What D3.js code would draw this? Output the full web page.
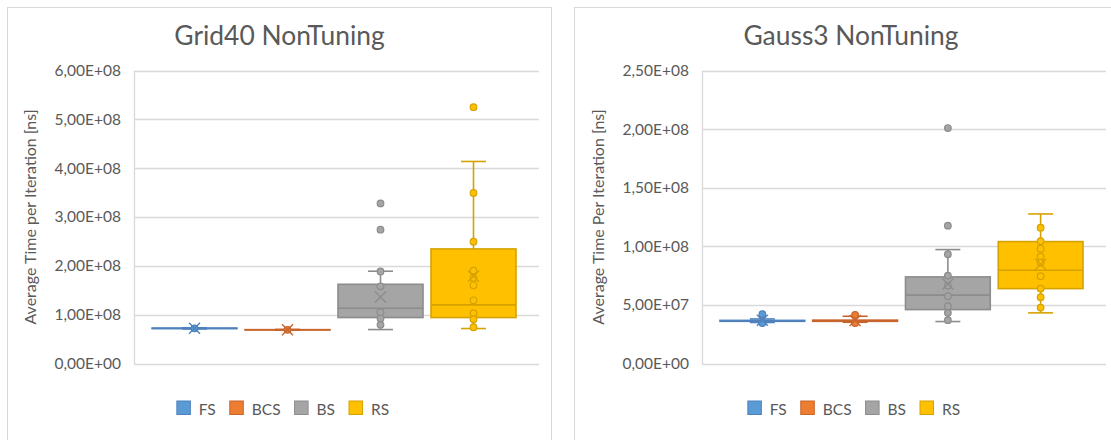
<!DOCTYPE html>
<html>
<head>
<meta charset="utf-8">
<script src="https://cdn.jsdelivr.net/npm/d3@7"></script>
<style>
  body { margin: 0; background: #fff; }
  text { font-family: Lato, "Open Sans", sans-serif; fill: #595959; }
</style>
</head>
<body>
<svg id="chart" width="1111" height="440"></svg>
<script>
// Series shared by both panels
const seriesNames = ["FS", "BCS", "BS", "RS"];
const seriesFill = ["#5b9bd5", "#ed7d31", "#a5a5a5", "#ffc000"];
const seriesLine = ["#4f81bd", "#c8642b", "#8c8c8c", "#d6a200"];

// Grid40 NonTuning — box statistics, average time per iteration (ns)
const grid40Min    = [7.08e7, 6.82e7, 6.95e7, 7.16e7];
const grid40Q1     = [7.17e7, 6.87e7, 9.41e7, 9.41e7];
const grid40Median = [7.20e7, 6.90e7, 1.131e8, 1.200e8];
const grid40Q3     = [7.24e7, 6.93e7, 1.622e8, 2.346e8];
const grid40Max    = [7.32e7, 6.98e7, 1.890e8, 4.137e8];
const grid40Mean   = [7.20e7, 6.90e7, 1.364e8, 1.785e8];
const grid40Points = [
  [7.20e7],
  [6.90e7],
  [3.278e8, 2.740e8, 1.885e8, 1.581e8, 1.049e8, 9.20e7, 7.91e7],
  [5.249e8, 3.491e8, 2.495e8, 1.902e8, 1.753e8, 1.601e8, 1.294e8, 1.029e8, 9.06e7, 7.42e7]
];
const grid40Ticks = [0, 1e8, 2e8, 3e8, 4e8, 5e8, 6e8];
const grid40TickLabels = ["0,00E+00", "1,00E+08", "2,00E+08", "3,00E+08", "4,00E+08", "5,00E+08", "6,00E+08"];

// Gauss3 NonTuning — box statistics, average time per iteration (ns)
const gauss3Min    = [3.50e7, 3.52e7, 3.58e7, 4.32e7];
const gauss3Q1     = [3.60e7, 3.60e7, 4.60e7, 6.39e7];
const gauss3Median = [3.64e7, 3.65e7, 5.83e7, 7.96e7];
const gauss3Q3     = [3.68e7, 3.70e7, 7.39e7, 1.040e8];
const gauss3Max    = [3.80e7, 4.03e7, 9.72e7, 1.276e8];
const gauss3Mean   = [3.70e7, 3.66e7, 6.79e7, 8.47e7];
const gauss3Points = [
  [4.21e7, 3.45e7],
  [4.15e7, 3.45e7],
  [2.009e8, 1.176e8, 9.32e7, 7.50e7, 6.65e7, 5.74e7, 4.89e7, 4.32e7, 3.70e7],
  [1.159e8, 1.043e8, 9.80e7, 9.12e7, 8.61e7, 7.45e7, 6.39e7, 5.66e7, 4.77e7]
];
const gauss3Ticks = [0, 5e7, 1e8, 1.5e8, 2e8, 2.5e8];
const gauss3TickLabels = ["0,00E+00", "5,00E+07", "1,00E+08", "1,50E+08", "2,00E+08", "2,50E+08"];

const panels = [
  {
    title: "Grid40 NonTuning", yTitle: "Average Time per Iteration [ns]",
    min: grid40Min, q1: grid40Q1, median: grid40Median, q3: grid40Q3, max: grid40Max,
    mean: grid40Mean, points: grid40Points, ticks: grid40Ticks, tickLabels: grid40TickLabels,
    frameX0: 7.5, frameX1: 551.5, plotX0: 134, plotX1: 539, titleX: 279.5, legendX: 283
  },
  {
    title: "Gauss3 NonTuning", yTitle: "Average Time Per Iteration [ns]",
    min: gauss3Min, q1: gauss3Q1, median: gauss3Median, q3: gauss3Q3, max: gauss3Max,
    mean: gauss3Mean, points: gauss3Points, ticks: gauss3Ticks, tickLabels: gauss3TickLabels,
    frameX0: 574.5, frameX1: 1135, plotX0: 702, plotX1: 1106, titleX: 851, legendX: 854
  }
];

const svg = d3.select("#chart");
const plotTop = 70.5, plotBottom = 363.5;
const gridColor = "#d9d9d9";

panels.forEach(p => {
  const g = svg.append("g");

  // chart frame
  g.append("rect")
    .attr("x", p.frameX0).attr("y", 7.5)
    .attr("width", p.frameX1 - p.frameX0).attr("height", 460)
    .attr("fill", "#fff").attr("stroke", gridColor).attr("stroke-width", 1);

  const y = d3.scaleLinear()
    .domain([0, d3.max(p.ticks)])
    .range([plotBottom, plotTop]);

  const x = d3.scaleBand()
    .domain(seriesNames)
    .range([p.plotX0 + 14, p.plotX1 - 19])
    .paddingInner(0.086)
    .paddingOuter(0.043);

  // gridlines
  g.append("g")
    .selectAll("line").data(p.ticks).join("line")
    .attr("x1", p.plotX0).attr("x2", p.plotX1)
    .attr("y1", d => Math.round(y(d)) + 0.5).attr("y2", d => Math.round(y(d)) + 0.5)
    .attr("stroke", gridColor).attr("stroke-width", 1.3);

  // vertical axis line
  g.append("line")
    .attr("x1", p.plotX0 + 0.5).attr("x2", p.plotX0 + 0.5)
    .attr("y1", plotTop).attr("y2", plotBottom + 0.5)
    .attr("stroke", gridColor).attr("stroke-width", 1.3);

  // tick labels
  const axis = d3.axisLeft(y)
    .tickValues(p.ticks)
    .tickFormat((d, i) => p.tickLabels[i])
    .tickSize(0)
    .tickPadding(13);
  const ax = g.append("g").attr("transform", `translate(${p.plotX0},0)`).call(axis);
  ax.select(".domain").remove();
  ax.selectAll("text")
    .style("font-family", "Lato, 'Open Sans', sans-serif")
    .style("font-size", "15.5px")
    .attr("fill", "#595959");

  // title
  g.append("text")
    .attr("x", p.titleX).attr("y", 45)
    .attr("text-anchor", "middle")
    .style("font-size", "26.4px")
    .text(p.title);

  // y axis title
  g.append("text")
    .attr("transform", `translate(${p.plotX0 - 98},${(plotTop + plotBottom) / 2}) rotate(-90)`)
    .attr("text-anchor", "middle")
    .style("font-size", "16px")
    .text(p.yTitle);

  // boxes
  seriesNames.forEach((name, i) => {
    const cx = x(name) + x.bandwidth() / 2;
    const bw = x.bandwidth();
    const fill = seriesFill[i], line = seriesLine[i];
    const s = g.append("g");

    s.append("rect")
      .attr("x", x(name)).attr("y", y(p.q3[i]))
      .attr("width", bw).attr("height", Math.max(0, y(p.q1[i]) - y(p.q3[i])))
      .attr("fill", fill).attr("stroke", line).attr("stroke-width", 1.6);

    s.append("line")
      .attr("x1", x(name)).attr("x2", x(name) + bw)
      .attr("y1", y(p.median[i])).attr("y2", y(p.median[i]))
      .attr("stroke", line).attr("stroke-width", 1.6);

    // whiskers and caps
    [[p.q3[i], p.max[i]], [p.q1[i], p.min[i]]].forEach(([a, b]) => {
      s.append("line")
        .attr("x1", cx).attr("x2", cx)
        .attr("y1", y(a)).attr("y2", y(b))
        .attr("stroke", line).attr("stroke-width", 1.6);
      s.append("line")
        .attr("x1", cx - 12.5).attr("x2", cx + 12.5)
        .attr("y1", y(b)).attr("y2", y(b))
        .attr("stroke", line).attr("stroke-width", 1.6);
    });

    // individual points
    s.selectAll("circle").data(p.points[i]).join("circle")
      .attr("cx", cx).attr("cy", d => y(d))
      .attr("r", 3.3)
      .attr("fill", fill).attr("stroke", line).attr("stroke-width", 1.2);

    // mean marker
    const my = y(p.mean[i]), m = 5.5;
    s.append("path")
      .attr("d", `M${cx - m},${my - m}L${cx + m},${my + m}M${cx - m},${my + m}L${cx + m},${my - m}`)
      .attr("stroke", line).attr("stroke-width", 1.4).attr("fill", "none");
  });

  // legend
  const lg = g.append("g");
  const items = lg.selectAll("g").data(seriesNames).join("g");
  items.append("rect")
    .attr("width", 13.5).attr("height", 13.5)
    .attr("y", 401)
    .attr("fill", (d, i) => seriesFill[i])
    .attr("stroke", (d, i) => seriesLine[i]).attr("stroke-width", 1);
  items.append("text")
    .attr("x", 22).attr("y", 414.5)
    .style("font-size", "15.5px")
    .text(d => d);
  const widths = [];
  items.each(function () {
    widths.push(22 + this.querySelector("text").getComputedTextLength());
  });
  const total = d3.sum(widths) + 14 * (widths.length - 1);
  let offset = p.legendX - total / 2;
  items.each(function (d, i) {
    d3.select(this).attr("transform", `translate(${offset},0)`);
    offset += widths[i] + 14;
  });
});
</script>
</body>
</html>
